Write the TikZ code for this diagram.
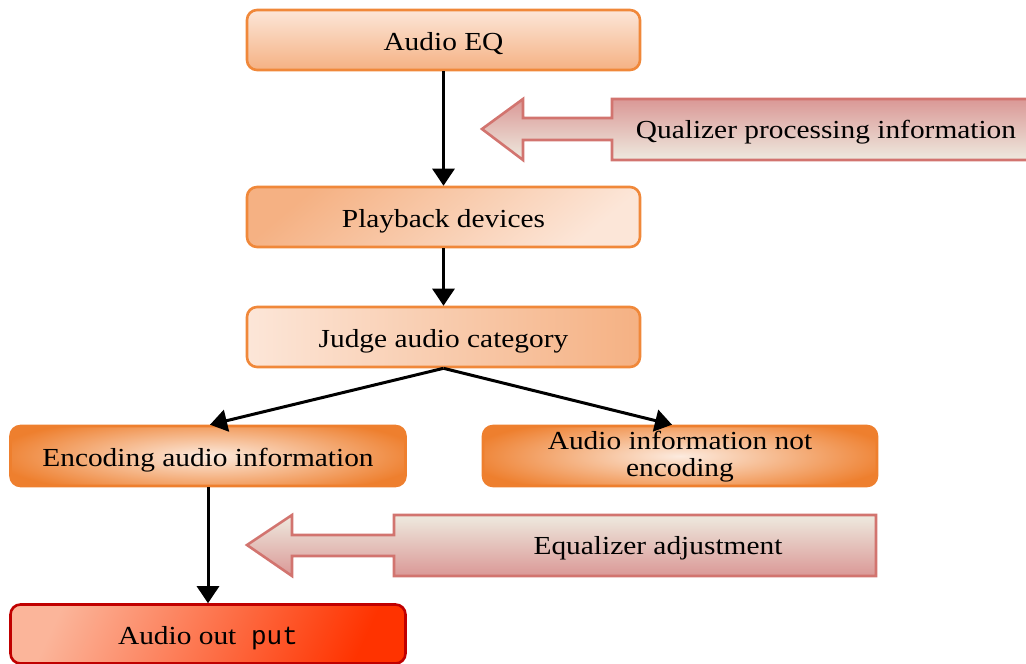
\documentclass[tikz,border=0pt]{standalone}
\usepackage{fontspec}
\setmainfont{Liberation Serif}[FakeStretch=1.13]
\newfontfamily\putfont{Liberation Mono}
\usetikzlibrary{arrows.meta,calc}
\definecolor{orbd}{HTML}{F0883A}
\definecolor{orlt}{HTML}{FCE6D8}
\definecolor{ormd}{HTML}{F5B183}
\definecolor{ordk}{HTML}{EE7F2E}
\definecolor{orcn}{HTML}{FCEBDF}
\definecolor{redbd}{HTML}{C00000}
\definecolor{redlt}{HTML}{FBB59A}
\definecolor{reddk}{HTML}{FF3300}
\definecolor{pkbd}{HTML}{D2746F}
\definecolor{pkdk}{HTML}{DA9896}
\definecolor{pklt}{HTML}{EEEADF}
\tikzset{
  box/.style={draw=orbd, line width=2.6pt, rounded corners=10pt,
    minimum width=393pt, minimum height=60pt, inner sep=2pt,
    font=\fontsize{26}{28}\selectfont, align=center},
  one/.style={text height=24pt, text depth=4pt},
  radbox/.style={box, draw=ordk, fill=ordk, minimum width=395pt,
    path picture={\shade[inner color=orcn, outer color=ordk]
      (path picture bounding box.center) ellipse [x radius=215pt, y radius=42pt];}},
  conn/.style={line width=3pt, -{Triangle[length=17pt,width=22pt]}},
  bigarrow/.style={draw=pkbd, line width=2.6pt, line join=miter},
  lbl/.style={font=\fontsize{26}{28}\selectfont, anchor=base}
}
\begin{document}
\begin{tikzpicture}[x=1pt,y=-1pt]
\useasboundingbox (0,0) rectangle (1026,664);
% block arrows
\path[bigarrow, top color=pkdk, bottom color=pklt]
  (482,129) -- (523,99) -- (523,118) -- (612,118) -- (612,99) -- (1040,99)
  -- (1040,160) -- (612,160) -- (612,140) -- (523,140) -- (523,160) -- cycle;
\node[lbl] (qpi) at (826,138) {Qualizer processing information};
\path[bigarrow, top color=pklt, bottom color=pkdk]
  (247,545) -- (292,515) -- (292,535) -- (394,535) -- (394,515) -- (876,515)
  -- (876,576) -- (394,576) -- (394,556) -- (292,556) -- (292,576) -- cycle;
\node[lbl] (eqa) at (658,554) {Equalizer adjustment};
% boxes
\node[box, one, top color=orlt, bottom color=ormd] (eq) at (443.5,40) {Audio EQ};
\node[box, one, top color=ormd, bottom color=orlt, shading angle=40] (pb) at (443.5,217) {Playback devices};
\node[box, one, left color=orlt, right color=ormd] (jac) at (443.5,337) {Judge audio category};
\node[radbox, one] (enc) at (208,456) {Encoding audio information};
\node[radbox, minimum width=394pt, inner ysep=1pt, text height=22pt, text depth=36pt] (ne) at (680,456) {\parbox[t]{380pt}{\centering Audio information not\\[-1pt]encoding}};
\node[box, one, draw=redbd, minimum width=395pt, minimum height=59pt, top color=redlt, bottom color=reddk, shading angle=65] (out) at (208,634) {Audio out\ \ {\putfont put}};
% connectors
\draw[conn] (eq.south) -- (pb.north);
\draw[conn] (pb.south) -- (jac.north);
\draw[conn] (jac.south) -- ($(enc.north)+(2,0)$);
\draw[conn] (jac.south) -- ($(ne.north)+(-8,0)$);
\draw[conn] (enc.south) -- (out.north);
\end{tikzpicture}
\end{document}
